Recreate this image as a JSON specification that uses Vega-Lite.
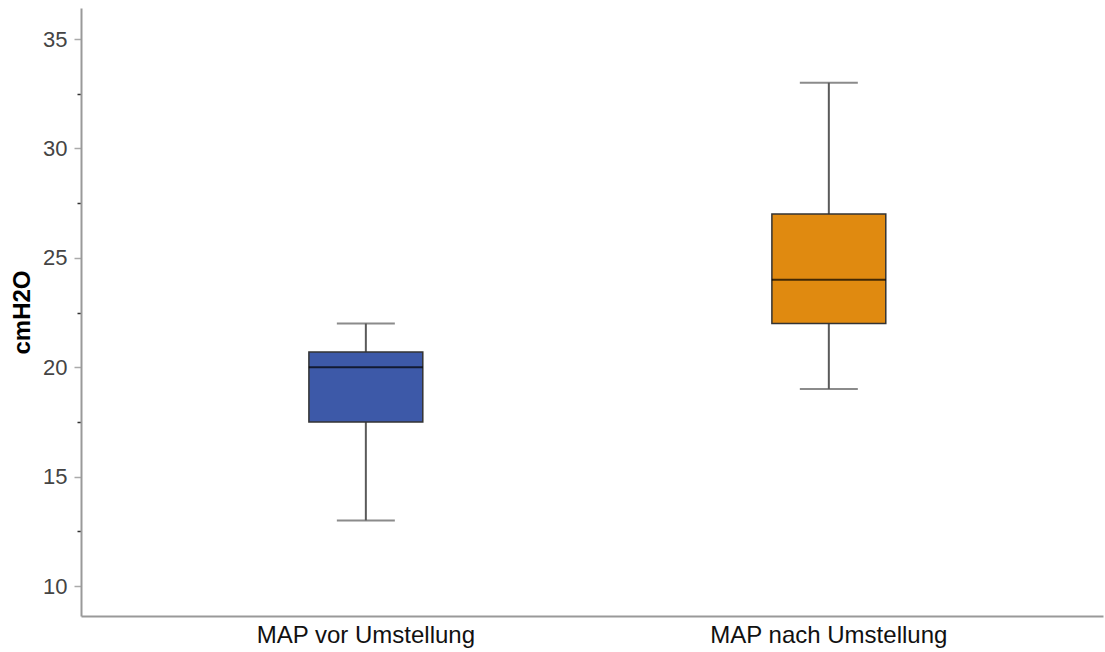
{
  "$schema": "https://vega.github.io/schema/vega-lite/v6.json",
  "width": 1022,
  "height": 608,
  "autosize": "none",
  "padding": {"left": 81, "top": 8, "right": 2, "bottom": 36},
  "background": "white",
  "config": {
    "view": {"stroke": null},
    "font": "Liberation Sans"
  },
  "data": {
    "values": [
      {"group": "MAP vor Umstellung", "min": 13, "q1": 17.5, "median": 20, "q3": 20.7, "max": 22},
      {"group": "MAP nach Umstellung", "min": 19, "q1": 22, "median": 24, "q3": 27, "max": 33}
    ]
  },
  "encoding": {
    "x": {
      "field": "group",
      "type": "nominal",
      "sort": null,
      "scale": {"paddingInner": 0.754, "paddingOuter": 0.4807, "align": 0.512},
      "axis": {
        "title": null,
        "ticks": false,
        "labelAngle": 0,
        "labelLimit": 0,
        "labelFont": "Liberation Sans",
        "labelFontSize": 24,
        "labelColor": "#111",
        "labelPadding": 7,
        "domainColor": "#999",
        "domainWidth": 2
      }
    }
  },
  "layer": [
    {
      "mark": {"type": "rule", "color": "#5a5a5a", "strokeWidth": 2},
      "encoding": {
        "y": {
          "field": "min",
          "type": "quantitative",
          "scale": {"domain": [8.63, 36.42], "nice": false, "zero": false},
          "axis": {
            "title": "cmH2O",
            "titleFont": "Liberation Sans",
            "titleFontSize": 24,
            "titleFontWeight": "bold",
            "titleColor": "#000",
            "titlePadding": 8,
            "grid": false,
            "values": [10, 12.5, 15, 17.5, 20, 22.5, 25, 27.5, 30, 32.5, 35],
            "labelExpr": "datum.value % 5 === 0 ? datum.label : ''",
            "labelFont": "Liberation Sans",
            "labelFontSize": 22,
            "labelColor": "#444",
            "labelPadding": 7,
            "tickColor": {"condition": {"test": "datum.value % 5 === 0", "value": "#aaa"}, "value": "#333"},
            "tickSize": {"condition": {"test": "datum.value % 5 === 0", "value": 7}, "value": 4},
            "tickWidth": 1.5,
            "domainColor": "#999",
            "domainWidth": 2
          }
        },
        "y2": {"field": "max"}
      }
    },
    {
      "mark": {"type": "tick", "color": "#5a5a5a", "size": 58, "thickness": 2},
      "encoding": {"y": {"field": "min", "type": "quantitative"}}
    },
    {
      "mark": {"type": "tick", "color": "#5a5a5a", "size": 58, "thickness": 2},
      "encoding": {"y": {"field": "max", "type": "quantitative"}}
    },
    {
      "mark": {"type": "bar", "stroke": "#333", "strokeWidth": 1.5, "opacity": 1},
      "encoding": {
        "y": {"field": "q1", "type": "quantitative"},
        "y2": {"field": "q3"},
        "color": {
          "field": "group",
          "type": "nominal",
          "scale": {"domain": ["MAP vor Umstellung", "MAP nach Umstellung"], "range": ["#3d59a8", "#e08a10"]},
          "legend": null
        }
      }
    },
    {
      "mark": {"type": "tick", "color": "#000", "opacity": 0.7, "size": 114, "thickness": 2},
      "encoding": {"y": {"field": "median", "type": "quantitative"}}
    }
  ]
}
